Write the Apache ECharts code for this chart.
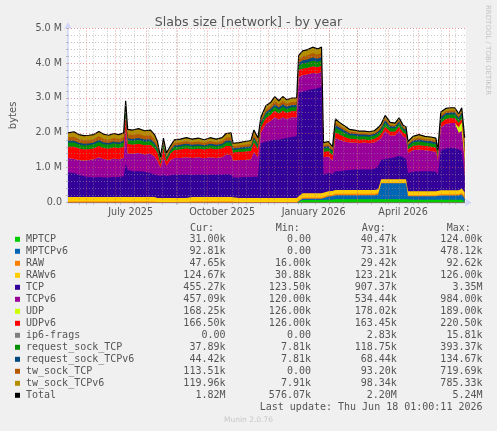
<!DOCTYPE html>
<html><head><meta charset="utf-8">
<script src="https://cdn.jsdelivr.net/npm/echarts@6/dist/echarts.min.js"></script>
<style>html,body{margin:0;padding:0;background:#F0F0F0;}#c{width:497px;height:431px;}</style>
</head><body><div id="c"></div><script>
// x positions: days since 14 May 2025 01:00 (400-day window ending 18 Jun 2026)
const days = [0,6,11,16,21,26,31,36,41,46, 51,56,58,60,65,71,77,83,87,90, 93,96,99,103,107,113,119,125,131,137, 143,149,155,159,164,166,172,178,184,187, 191,194,199,204,208,212,216,220,225,230, 232,236,241,246,251,255,257,262,266,269, 273,278,283,288,293,298,303,308,312,315, 319,324,329,333,337,340,342,347,353,359, 365,370,372,375,380,385,389,393,396,399];

// values in thousands of bytes
const MPTCP = [0,0,0,0,0,0,0,0,0,0, 0,0,0,0,0,0,0,0,0,0, 0,0,0,0,0,0,0,0,0,0, 0,0,0,0,0,0,0,0,0,0, 0,0,0,0,0,0,0,0,0,0, 0,70,70,70,70,70,60,80,80,90, 90,90,90,90,90,90,90,90,90,90, 90,90,90,90,90,90,80,80,80,80, 80,80,80,80,80,80,80,80,80,31];
const MPTCPv6 = [0,0,0,0,0,0,0,0,0,0, 0,0,0,0,0,0,0,0,0,0, 0,0,0,0,0,0,0,0,0,0, 0,0,0,0,0,0,0,0,0,0, 0,0,0,0,0,0,0,0,0,0, 0,40,40,40,40,40,30,90,100,120, 120,120,120,120,120,120,120,120,140,460, 460,460,460,460,460,460,100,100,100,100, 100,100,100,120,120,120,120,120,150,92.81];
const RAW = [30,30,30,30,30,30,30,30,30,30, 30,30,30,30,30,30,30,30,30,16, 16,16,16,16,16,16,16,30,30,30, 30,30,30,30,30,16,16,16,16,16, 16,16,16,16,16,16,16,16,16,16, 16,35,35,35,35,35,30,35,35,40, 40,40,40,40,40,40,40,40,40,20, 20,20,20,20,20,20,30,30,30,30, 30,30,30,35,35,35,35,35,40,47.65];
const RAWv6 = [130,130,130,130,130,130,130,130,130,130, 130,130,130,130,130,130,130,130,130,112, 112,112,112,112,112,112,112,125,125,125, 125,125,125,125,125,110,110,110,110,110, 110,110,110,110,110,110,110,110,110,110, 110,120,120,120,120,120,120,115,115,110, 110,110,110,110,110,110,110,110,110,100, 100,100,100,100,100,100,110,110,110,110, 110,110,110,120,120,120,120,120,130,124.67];
const TCP = [700,690,640,590,570,560,570,560,560,570, 570,590,960,770,740,740,720,690,640,652, 632,672,622,652,672,672,672,635,645,645, 645,645,645,655,645,594,594,604,604,614, 614,1574,1624,1654,1674,1674,1704,1724,1754,1774, 3024,2915,2955,2985,3015,3055,560,530,490,540, 540,560,570,590,590,590,590,600,670,550, 580,600,630,680,630,580,530,560,580,580, 580,560,480,1145,1195,1215,1195,1165,1080,455.27];
const TCPv6 = [420,400,420,450,490,520,570,530,500,530, 510,530,980,470,500,520,500,550,520,420, 240,500,300,440,480,480,500,490,500,470, 500,480,500,570,560,480,500,490,510,710, 560,300,500,570,650,580,620,550,570,550, 450,470,460,470,420,430,500,470,380,950, 900,830,790,770,750,770,750,760,730,630, 800,650,620,700,600,600,570,620,620,600, 580,570,420,650,700,710,730,480,570,457.09];
const UDP = [0,0,0,0,0,0,0,0,0,0, 0,0,0,0,0,0,0,0,0,0, 0,0,0,0,0,0,0,0,0,0, 0,0,0,0,0,0,0,0,0,0, 0,0,0,0,0,0,0,0,0,0, 0,0,0,0,0,0,0,0,0,0, 0,0,0,0,0,0,0,0,0,0, 0,0,0,0,0,0,0,0,0,0, 0,0,0,0,0,0,0,150,250,168.25];
const UDPv6 = [320,350,330,320,310,310,320,310,320,320, 320,320,350,280,260,260,260,250,240,220, 100,250,130,180,220,240,250,240,240,250, 250,240,250,240,260,230,230,240,240,270, 220,150,170,170,180,170,180,170,170,170, 200,190,180,180,180,170,150,150,150,150, 150,130,110,100,100,90,90,100,100,110, 120,110,110,120,100,110,100,120,120,120, 120,120,80,130,150,140,140,130,100,166.5];
const IP6FRAGS = [0,0,0,0,0,0,0,0,0,0, 0,0,0,0,0,0,0,0,0,0, 0,0,0,0,0,0,0,0,0,0, 0,0,0,0,0,0,0,0,0,0, 0,0,0,0,0,0,0,0,0,0, 0,0,8,8,8,0,0,0,0,0, 0,0,0,0,0,0,0,0,0,0, 0,0,0,0,0,0,0,0,0,0, 0,0,0,0,0,0,0,0,0,0];
const REQ_TCP = [120,120,115,115,115,120,120,115,115,118, 115,120,120,110,110,115,110,110,100,90, 60,85,70,65,90,90,90,90,90,85, 90,90,90,100,105,80,80,85,85,100, 95,90,110,110,120,110,120,115,115,115, 130,150,150,160,150,155,90,95,85,140, 130,120,100,100,95,95,95,95,105,110, 120,105,100,100,85,80,85,100,110,100, 100,100,70,110,105,105,105,95,110,37.89];
const REQ_TCPv6 = [50,55,50,50,50,50,55,50,50,50, 50,50,60,55,55,55,55,55,50,45, 30,40,35,35,45,45,45,45,45,40, 45,45,45,55,55,40,40,45,45,50, 50,50,60,60,70,65,70,65,65,65, 75,90,90,95,90,95,50,50,45,80, 75,70,60,55,55,50,50,50,55,60, 70,55,50,55,45,45,45,55,60,55, 55,55,40,65,60,60,60,55,65,44.42];
const TW_TCP = [100,110,100,100,100,100,105,100,95,100, 95,100,120,110,110,115,110,115,105,85, 50,75,60,55,70,70,75,70,75,65, 75,70,75,85,90,65,65,70,70,90, 80,70,80,80,95,85,95,85,85,85, 95,115,120,125,120,125,55,55,50,70, 60,55,45,45,40,40,40,40,45,50, 60,45,40,45,35,35,40,50,55,50, 50,50,35,60,55,55,55,50,60,113.51];
const TW_TCPv6 = [130,145,135,135,135,130,140,135,130,132, 130,130,170,145,145,155,145,150,135,110, 60,100,75,65,95,95,100,95,100,90, 100,95,100,120,130,85,85,90,100,120, 105,90,110,110,125,110,125,115,115,115, 120,155,160,170,160,165,75,80,70,110, 85,75,65,60,60,55,55,55,65,70, 80,65,60,60,55,50,60,75,85,75, 75,75,55,85,80,80,80,70,85,119.96];

// axis ticks / grid positions (days since start)
const monthDays = [18,48,79,110,140,171,201,232,263,291,322,352,383];
const biweekDays = [11,25,39,53,67,81,95,109,123,137,151,165,179,193,207,221,235,249,263,277,291,305,319,333,347,361,375,389];
const labelDays = [63,155,247,337];
const labelNames = ['July 2025','October 2025','January 2026','April 2026'];
const yMinorM = [0.2,0.4,0.6,0.8,1.2,1.4,1.6,1.8,2.2,2.4,2.6,2.8,3.2,3.4,3.6,3.8,4.2,4.4,4.6,4.8];
const yMajorM = [1,2,3,4,5];

// legend table
const legNames = ['MPTCP','MPTCPv6','RAW','RAWv6','TCP','TCPv6','UDP','UDPv6','ip6-frags','request_sock_TCP','request_sock_TCPv6','tw_sock_TCP','tw_sock_TCPv6','Total'];
const legColors = ['#00CC00','#0066B3','#FF8000','#FFCC00','#330099','#990099','#CCFF00','#FF0000','#808080','#008F00','#00487D','#B35A00','#B38F00','#000000'];
const legCur = ['31.00k','92.81k','47.65k','124.67k','455.27k','457.09k','168.25k','166.50k','0.00','37.89k','44.42k','113.51k','119.96k','1.82M'];
const legMin = ['0.00','0.00','16.00k','30.88k','123.50k','120.00k','126.00k','126.00k','0.00','7.81k','7.81k','0.00','7.91k','576.07k'];
const legAvg = ['40.47k','73.31k','29.42k','123.21k','907.37k','534.44k','178.02k','163.45k','2.83k','118.75k','68.44k','93.20k','98.34k','2.20M'];
const legMax = ['124.00k','478.12k','92.62k','126.00k','3.35M','984.00k','189.00k','220.50k','15.81k','393.37k','134.67k','719.69k','785.33k','5.24M'];

const stackArrays = [MPTCP,MPTCPv6,RAW,RAWv6,TCP,TCPv6,UDP,UDPv6,IP6FRAGS,REQ_TCP,REQ_TCPv6,TW_TCP,TW_TCPv6];

const SANS = "'DejaVu Sans', sans-serif";
const MONO = "'DejaVu Sans Mono', monospace";
const TXT = '#555555';
const AXIS = '#CFD6F8';
const GRID_MINOR = 'rgba(150,150,150,0.55)';
const GRID_MAJOR = 'rgba(220,90,90,0.6)';

// stacked (cumulative) tops, like rrdtool STACK; painted top band first so lower bands cover it
const cumulative = [];
stackArrays.forEach((arr, k) => {
  cumulative.push(arr.map((v, i) => v + (k > 0 ? cumulative[k - 1][i] : 0)));
});
const series = [];
for (let k = stackArrays.length - 1; k >= 0; k--) {
  series.push({
    name: legNames[k], type: 'line', symbol: 'none', showSymbol: false,
    lineStyle: { width: 0 }, itemStyle: { color: legColors[k] },
    areaStyle: { color: legColors[k], opacity: 1, origin: 'start' },
    data: days.map((d, i) => [d, cumulative[k][i] * 1000]), z: 2, animation: false
  });
}

const gridMarks = [];
biweekDays.forEach(d => gridMarks.push({ xAxis: d, lineStyle: { color: GRID_MINOR, type: [1,2], width: 1 } }));
yMinorM.forEach(v => gridMarks.push({ yAxis: v * 1e6, lineStyle: { color: GRID_MINOR, type: [1,2], width: 1 } }));
monthDays.forEach(d => gridMarks.push({ xAxis: d, lineStyle: { color: GRID_MAJOR, type: [1,2], width: 1 } }));
yMajorM.forEach(v => gridMarks.push({ yAxis: v * 1e6, lineStyle: { color: GRID_MAJOR, type: [1,2], width: 1 } }));

series.push({
  name: 'Total', type: 'line', symbol: 'none', showSymbol: false,
  lineStyle: { width: 1.2, color: '#000' }, itemStyle: { color: '#000' },
  data: days.map((d, i) => [d, cumulative[stackArrays.length - 1][i] * 1000]),
  z: 3, animation: false,
  markLine: { silent: true, symbol: ['none','none'], label: { show: false }, animation: false, data: gridMarks }
});

const graphic = [];
const rowY0 = 239.3, rowH = 12;
const hdrY = 228;
[['Cur:',190],['Min:',275.7],['Avg:',361.7],['Max:',446.7]].forEach(([t,x]) => graphic.push({
  type: 'text', x: x, y: hdrY, style: { text: t, font: '10px ' + MONO, fill: TXT, align: 'left', verticalAlign: 'middle' }
}));
legNames.forEach((n, i) => {
  const y = rowY0 + rowH * i;
  graphic.push({ type: 'rect', shape: { x: 15, y: y - 2.5, width: 5, height: 5 }, style: { fill: legColors[i] } });
  graphic.push({ type: 'text', x: 26, y: y, style: { text: n, font: '10px ' + MONO, fill: TXT, align: 'left', verticalAlign: 'middle' } });
  [[legCur,225.5],[legMin,311],[legAvg,396.8],[legMax,482.5]].forEach(([arr,x]) => graphic.push({
    type: 'text', x: x, y: y, style: { text: arr[i], font: '10px ' + MONO, fill: TXT, align: 'right', verticalAlign: 'middle' }
  }));
});
graphic.push({ type: 'text', x: 482.5, y: 407.3, style: { text: 'Last update: Thu Jun 18 01:00:11 2026', font: '10px ' + MONO, fill: TXT, align: 'right', verticalAlign: 'middle' } });
graphic.push({ type: 'text', x: 248.5, y: 420.5, style: { text: 'Munin 2.0.76', font: '7.5px ' + SANS, fill: '#C8C8C8', align: 'center', verticalAlign: 'middle' } });
graphic.push({ type: 'text', x: 487.5, y: 5, rotation: -Math.PI / 2, style: { text: 'RRDTOOL / TOBI OETIKER', font: '7px ' + SANS, fill: '#C4C4C4', align: 'left', verticalAlign: 'middle' } });

const option = {
  backgroundColor: '#F0F0F0',
  animation: false,
  title: {
    text: 'Slabs size [network] - by year', left: 'center', top: 11,
    textStyle: { fontFamily: SANS, fontSize: 12.6, fontWeight: 'normal', color: TXT }
  },
  grid: { left: 65.7, right: 31.3, top: 28.3, bottom: 228.5, show: true, backgroundColor: '#FFFFFF', borderWidth: 0 },
  xAxis: {
    type: 'value', min: 0, max: 400,
    axisLine: { show: true, lineStyle: { color: AXIS, width: 1.5 }, symbol: ['none','arrow'], symbolSize: [6, 7], symbolOffset: [0, 6] },
    axisTick: { show: true, length: 2, inside: false, customValues: biweekDays.concat(monthDays), lineStyle: { color: '#BBBBBB' } },
    axisLabel: { customValues: labelDays, formatter: v => labelNames[labelDays.indexOf(v)] || '', fontFamily: SANS, fontSize: 9.6, color: TXT, margin: 5 },
    splitLine: { show: false }
  },
  yAxis: {
    type: 'value', min: 0, max: 5e6, interval: 1e6,
    name: 'bytes', nameLocation: 'middle', nameRotate: 90, nameGap: 50,
    nameTextStyle: { fontFamily: SANS, fontSize: 10, color: TXT },
    axisLine: { show: true, lineStyle: { color: AXIS, width: 1.5 }, symbol: ['none','arrow'], symbolSize: [6, 7], symbolOffset: [0, 6] },
    axisTick: { show: true, length: 2, lineStyle: { color: '#BBBBBB' } },
    minorTick: { show: true, splitNumber: 5, length: 2, lineStyle: { color: '#BBBBBB' } },
    axisLabel: { formatter: v => v === 0 ? '0.0' : (v / 1e6).toFixed(1) + ' M', fontFamily: SANS, fontSize: 9.6, color: TXT, margin: 6 },
    splitLine: { show: false }
  },
  graphic: graphic,
  series: series
};
const chart = echarts.init(document.getElementById('c'));
chart.setOption(option);
</script></body></html>
